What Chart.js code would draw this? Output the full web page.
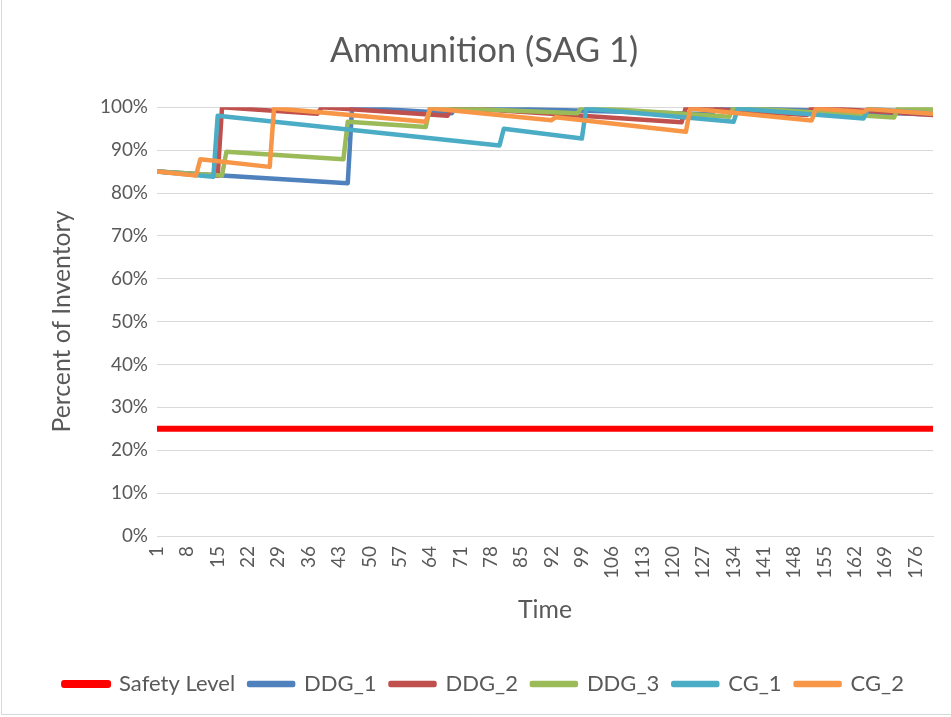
<!DOCTYPE html>
<html><head><meta charset="utf-8">
<script src="https://cdn.jsdelivr.net/npm/chart.js@4.4.1/dist/chart.umd.min.js"></script>
<style>html,body{margin:0;padding:0;background:#fff}canvas{display:block}</style>
</head><body>
<canvas id="c" width="951" height="717"></canvas>
<script>
// ---- data ----
const chartTitle = 'Ammunition (SAG 1)';
const xAxisTitle = 'Time';
const yAxisTitle = 'Percent of Inventory';
const xTickLabels = [1,8,15,22,29,36,43,50,57,64,71,78,85,92,99,106,113,120,127,134,141,148,155,162,169,176];
const yTickValues = [0,10,20,30,40,50,60,70,80,90,100];
const timeMin = 1, timeMax = 180;

const seriesNames = ['Safety Level','DDG_1','DDG_2','DDG_3','CG_1','CG_2'];

const safetyTime = [1,180];
const safetyPct  = [25,25];

const ddg1Time = [1,45,46,69,70,129,130,180];
const ddg1Pct  = [85,82.3,100,98.6,100,98.4,100,98.3];

const ddg2Time = [1,15,16,38,39,68,69,122,123,151,152,180];
const ddg2Pct  = [85,84,100,98.5,100,98,100,96.5,100,98.2,100,98.2];

const ddg3Time = [1,16,17,44,45,63,64,98,99,133,134,171,172,180];
const ddg3Pct  = [85,84.1,89.6,87.9,96.6,95.4,100,98.6,100,97.8,100,97.6,100,99.5];

const cg1Time = [1,14,15,80,81,99,100,134,135,164,165,180];
const cg1Pct  = [85,83.8,98,91.1,95,92.7,99.7,96.6,99.7,97.4,99.7,98.5];

const cg2Time = [1,10,11,27,28,63,64,92,93,123,124,152,153,164,165,180];
const cg2Pct  = [85,84.1,87.9,86.1,99.8,96.6,99.8,97.0,97.7,94.3,99.7,96.9,99.7,98.9,99.6,98.5];

// ---- helpers ----
function pts(xs, ys){ return xs.map((x,i)=>({x:x, y:ys[i]})); }
const FAMILY = 'Lato, "Open Sans", "Liberation Sans", sans-serif';
const mctx = document.createElement('canvas').getContext('2d');
function fit(text, target){
  mctx.font = '100px ' + FAMILY;
  return Math.round(100 * target / mctx.measureText(text).width * 10) / 10;
}
const titleSize  = fit(chartTitle, 308);
const tickSize   = fit('100%', 48);
const yTitleSize = fit(yAxisTitle, 222);
const xTitleSize = fit(xAxisTitle, 54);
const legendSize = fit(seriesNames[0], 116);
const TEXT = '#595959';
const GRID = '#D9D9D9';

const frame = {
  id: 'frame',
  afterDraw(chart){
    const c = chart.ctx;
    c.save();
    c.strokeStyle = GRID; c.lineWidth = 1;
    c.beginPath();
    c.moveTo(1.5, 0); c.lineTo(1.5, 714.5); c.lineTo(951, 714.5);
    c.stroke();
    c.restore();
  }
};

function ds(i, xs, ys, color, width){
  return {
    label: seriesNames[i], data: pts(xs, ys),
    borderColor: color, backgroundColor: color, borderWidth: width,
    pointRadius: 0, pointHoverRadius: 0, tension: 0,
    borderJoinStyle: 'round', borderCapStyle: 'round',
    order: 10 - i
  };
}

new Chart(document.getElementById('c'), {
  type: 'line',
  data: {
    datasets: [
      ds(0, safetyTime, safetyPct, '#FF0000', 6),
      ds(1, ddg1Time, ddg1Pct, '#4F81BD', 4.5),
      ds(2, ddg2Time, ddg2Pct, '#C0504D', 4.5),
      ds(3, ddg3Time, ddg3Pct, '#9BBB59', 4.5),
      ds(4, cg1Time, cg1Pct, '#4BACC6', 4.5),
      ds(5, cg2Time, cg2Pct, '#F79646', 4.5)
    ]
  },
  plugins: [frame],
  options: {
    responsive: false, animation: false,
    layout: { padding: { left: 35, right: 18, top: 0, bottom: 12 } },
    plugins: {
      tooltip: { enabled: false },
      title: {
        display: true, text: chartTitle, color: TEXT,
        font: { family: FAMILY, size: titleSize, weight: 'normal' },
        padding: { top: 30, bottom: 36 }
      },
      legend: {
        position: 'bottom',
        labels: {
          color: TEXT, font: { family: FAMILY, size: legendSize },
          boxWidth: 44, boxHeight: 2, padding: 14,
          sort: (a, b) => a.datasetIndex - b.datasetIndex
        }
      }
    },
    scales: {
      x: {
        type: 'linear', min: timeMin, max: timeMax,
        afterBuildTicks: (s) => { s.ticks = xTickLabels.map(v => ({ value: v })); },
        afterFit: (s) => { s.height = 123; },
        grid: { display: false, drawTicks: false },
        border: { display: true, color: GRID, width: 1 },
        ticks: {
          autoSkip: false, minRotation: 90, maxRotation: 90, padding: 10,
          color: TEXT, font: { family: FAMILY, size: tickSize },
          callback: (v) => String(v)
        },
        title: { display: true, text: xAxisTitle, color: TEXT,
                 font: { family: FAMILY, size: xTitleSize }, padding: { top: 0, bottom: 34 } }
      },
      y: {
        min: 0, max: 100,
        afterBuildTicks: (s) => { s.ticks = yTickValues.map(v => ({ value: v })); },
        afterFit: (s) => { s.width = 157 - 35; },
        grid: { color: GRID, lineWidth: 1, drawTicks: false },
        border: { display: false },
        ticks: { padding: 9, color: TEXT, font: { family: FAMILY, size: tickSize },
                 callback: (v) => v + '%' },
        title: { display: true, text: yAxisTitle, color: TEXT,
                 font: { family: FAMILY, size: yTitleSize }, padding: { top: 12, bottom: 0 } }
      }
    }
  }
});
</script>
</body></html>
